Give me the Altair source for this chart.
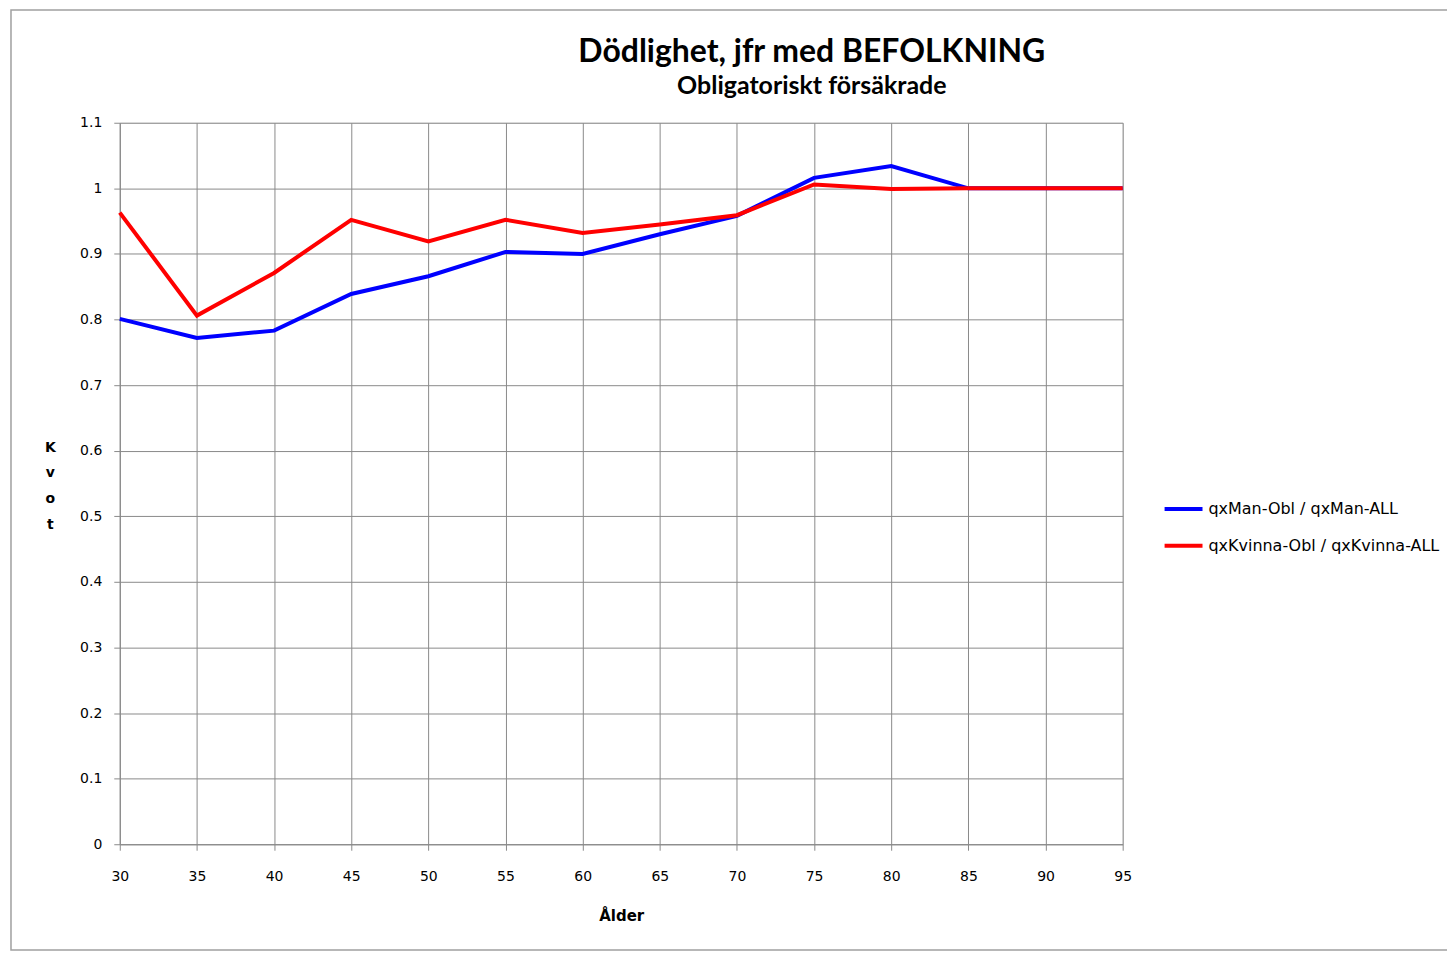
import altair as alt
import pandas as pd

ages = [30, 35, 40, 45, 50, 55, 60, 65, 70, 75, 80, 85, 90, 95]
man = [0.801, 0.772, 0.783, 0.839, 0.866, 0.903, 0.900, 0.930, 0.958, 1.016, 1.034, 1.0, 1.0, 1.0]
kvinna = [0.963, 0.806, 0.871, 0.952, 0.919, 0.952, 0.932, 0.945, 0.959, 1.006, 0.999, 1.0, 1.0, 1.0]
series_names = ["qxMan-Obl / qxMan-ALL", "qxKvinna-Obl / qxKvinna-ALL"]
series_colors = ["#0000FF", "#FF0000"]
y_ticks = [0, 0.1, 0.2, 0.3, 0.4, 0.5, 0.6, 0.7, 0.8, 0.9, 1.0, 1.1]
x_ticks = ages

rows = []
for a, v in zip(ages, man):
    rows.append({"Ålder": a, "Kvot": v, "Serie": series_names[0], "ord": 0})
for a, v in zip(ages, kvinna):
    rows.append({"Ålder": a, "Kvot": v, "Serie": series_names[1], "ord": 1})
df = pd.DataFrame(rows)

W, H = 1005, 723

lines = alt.Chart(df).mark_line(strokeWidth=4).encode(
    x=alt.X("Ålder:Q", scale=alt.Scale(domain=[30, 95], nice=False, zero=False),
            axis=alt.Axis(values=x_ticks, title="Ålder", labelPadding=19,
                          labelFlush=False, labelOverlap=False,
                          titlePadding=25, titleFontWeight="bold",
                          titleFont="DejaVu Sans", titleFontSize=15)),
    y=alt.Y("Kvot:Q", scale=alt.Scale(domain=[0, 1.1], nice=False),
            axis=alt.Axis(values=y_ticks, labelExpr="round(datum.value*10)/10 + ''",
                          labelFlush=False, labelOverlap=False,
                          title=["K", "v", "o", "t"], titleAngle=0, titleAlign="center",
                          titleBaseline="top", titleX=-70, titleY=318,
                          titleLineHeight=26, titleFontWeight="bold",
                          titleFont="DejaVu Sans", titleFontSize=14, labelPadding=12)),
    color=alt.Color("Serie:N", scale=alt.Scale(domain=series_names, range=series_colors),
                    title=None),
    order=alt.Order("ord:Q"),
)

border = alt.Chart(pd.DataFrame({"a": [0]})).mark_rect(
    fillOpacity=0, stroke="#a0a0a0", strokeWidth=1.5
).encode(
    x=alt.value(-109), x2=alt.value(1340), y=alt.value(-113), y2=alt.value(829)
)

chart = alt.layer(border, lines).properties(
    width=W, height=H,
    autosize=alt.AutoSizeParams(type="none"),
    padding={"left": 112, "top": 114, "right": 325, "bottom": 107},
    title=alt.TitleParams(
        text="Dödlighet, jfr med BEFOLKNING",
        subtitle="Obligatoriskt försäkrade",
        font="Lato", fontSize=32, fontWeight="bold", color="#000",
        subtitleFont="Lato", subtitleFontSize=25, subtitleFontWeight="bold",
        subtitleColor="#000", subtitlePadding=5,
        anchor="middle", frame="group", dx=191, dy=115, offset=24,
    ),
).configure_view(stroke=None).configure(background="white").configure_axis(
    gridColor="#8a8a8a", gridWidth=1, gridOpacity=1,
    domainColor="#8a8a8a", domainWidth=1,
    tickColor="#8a8a8a", tickSize=6, tickWidth=1,
    labelFont="DejaVu Sans", labelFontSize=14, labelColor="#000",
    titleColor="#000",
).configure_legend(
    orient="none", legendX=1045, legendY=366,
    symbolType="stroke", symbolStrokeWidth=4, symbolSize=1444,
    labelFont="DejaVu Sans", labelFontSize=16, labelColor="#000",
    labelOffset=4, rowPadding=8, padding=0, labelLimit=400,
)

chart.save("out.html", embed_options={"renderer": "svg", "actions": False})
